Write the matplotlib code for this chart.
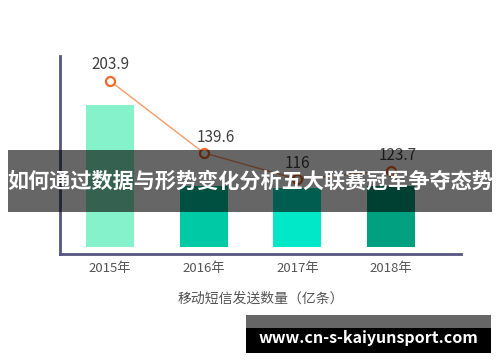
import matplotlib
matplotlib.use('Agg')
import matplotlib.pyplot as plt
from matplotlib.patches import Rectangle

plt.rcParams['font.family'] = ['Noto Sans CJK SC', 'DejaVu Sans']

years = ['2015年', '2016年', '2017年', '2018年']
sms_count = [203.9, 139.6, 116, 123.7]
bar_height = [142, 61, 59, 61]
bar_colors = ['#86f2cc', '#00c9a5', '#00e8c8', '#00a080']
label_offsets = [(0, 12), (9, 11), (0, 11), (5, 11)]

W, H = 500, 362
fig = plt.figure(figsize=(W / 100, H / 100), dpi=100)
ax = fig.add_axes([60 / W, (H - 254) / H, 401 / W, 198 / H])
x = list(range(len(years)))

ax.bar(x, bar_height, width=0.51, color=bar_colors)
ax.set_ylim(-7, 191)
ax.set_xlim(-0.534, 3.747)
ax.set_yticks([])
ax.set_xticks(x)
ax.set_xticklabels(years, fontsize=9.5, color='#555555')
ax.tick_params(axis='x', length=0, pad=6)
for s in ['top', 'right']:
    ax.spines[s].set_visible(False)
for s in ['left', 'bottom']:
    ax.spines[s].set_color('#55557f')
    ax.spines[s].set_linewidth(2)
ax.set_xlabel('移动短信发送数量（亿条）', fontsize=10, color='#555555', labelpad=12)

ax2 = ax.twinx()
ax2.set_ylim(49.1, 226.2)
ax2.axis('off')
ax2.plot(x, sms_count, color='#f79a6a', lw=1, marker='o', markersize=6.5,
         markerfacecolor='white', markeredgecolor='#f06a2a', markeredgewidth=1.6)
for xi, v, off in zip(x, sms_count, label_offsets):
    ax2.annotate(f'{v:g}', (xi, v), xytext=off, textcoords='offset points',
                 ha='center', va='center', fontsize=11, color='#404040')

# banner across the middle
fig.add_artist(Rectangle((8 / W, (H - 212) / H), 484 / W, 62 / H, transform=fig.transFigure,
                         facecolor='black', alpha=0.6, edgecolor='none', zorder=5))
fig.text(250 / W, (H - 181) / H, '如何通过数据与形势变化分析五大联赛冠军争夺态势',
         ha='center', va='center', fontsize=15.2, fontweight='bold', color='white', zorder=6)

# watermark box
fig.add_artist(Rectangle((246 / W, (H - 328) / H), 245 / W, 13 / H, transform=fig.transFigure,
                         facecolor='#666666', edgecolor='none', zorder=5))
fig.add_artist(Rectangle((246 / W, (H - 353) / H), 245 / W, 25 / H, transform=fig.transFigure,
                         facecolor='black', edgecolor='none', zorder=5))
fig.text(368 / W, (H - 338) / H, 'www.cn-s-kaiyunsport.com',
         ha='center', va='center', fontsize=11.5, fontweight='bold', color='white', zorder=6)

fig.savefig('out.png', dpi=100)
